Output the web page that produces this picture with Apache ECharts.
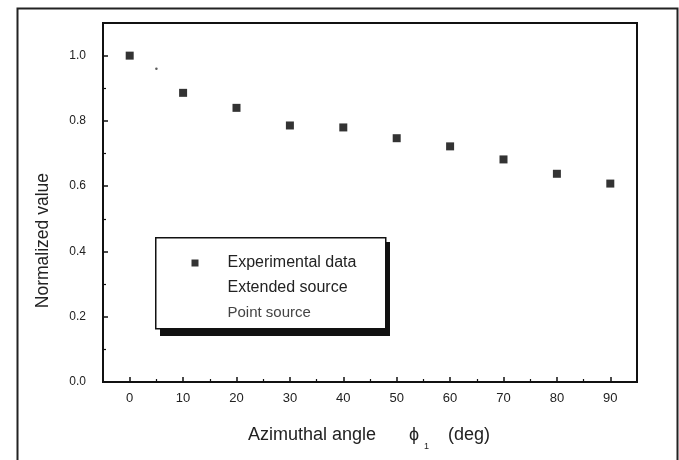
<!DOCTYPE html>
<html><head><meta charset="utf-8">
<script src="https://cdn.jsdelivr.net/npm/echarts@6/dist/echarts.min.js"></script>
<style>html,body{margin:0;padding:0;background:#fff}#c{width:679px;height:460px}</style>
</head><body><div id="c"></div>
<script>
const angles = [0, 10, 20, 30, 40, 50, 60, 70, 80, 90];
const experimental = [1.0, 0.886, 0.84, 0.786, 0.78, 0.747, 0.722, 0.682, 0.638, 0.608];
const pointSourceDots = [[5, 0.96]];
const extendedSource = [];
const xMajorTicks = [0, 10, 20, 30, 40, 50, 60, 70, 80, 90];
const xMinorTicks = [5, 15, 25, 35, 45, 55, 65, 75, 85];
const yMajorTicks = [0, 0.2, 0.4, 0.6, 0.8, 1.0];
const yMinorTicks = [0.1, 0.3, 0.5, 0.7, 0.9];

const chart = echarts.init(document.getElementById('c'));
const font = 'Liberation Sans, Arial, sans-serif';
chart.setOption({
  animation: false,
  backgroundColor: '#fff',
  grid: {left: 103, top: 23, right: 42, bottom: 78, show: true, borderColor: '#111', borderWidth: 2, backgroundColor: 'transparent'},
  xAxis: [{
    type: 'value', min: -5, max: 95, position: 'bottom',
    axisLine: {show: true, onZero: false, lineStyle: {color: '#111', width: 2}},
    axisTick: {show: true, inside: true, length: 5, customValues: xMajorTicks, lineStyle: {color: '#111', width: 1.5}},
    axisLabel: {customValues: xMajorTicks, color: '#222', fontFamily: font, fontSize: 13, margin: 10},
    splitLine: {show: false}
  }, {
    type: 'value', min: -5, max: 95, position: 'bottom',
    axisLine: {show: false, onZero: false},
    axisTick: {show: true, inside: true, length: 3, customValues: xMinorTicks, lineStyle: {color: '#111', width: 1.2}},
    axisLabel: {show: false}, splitLine: {show: false}
  }],
  yAxis: [{
    type: 'value', min: 0, max: 1.1, position: 'left',
    axisLine: {show: true, onZero: false, lineStyle: {color: '#111', width: 2}},
    axisTick: {show: true, inside: true, length: 5, customValues: yMajorTicks, lineStyle: {color: '#111', width: 1.5}},
    axisLabel: {customValues: yMajorTicks, formatter: v => v.toFixed(1), color: '#222', fontFamily: font, fontSize: 12, margin: 17},
    splitLine: {show: false}
  }, {
    type: 'value', min: 0, max: 1.1, position: 'left',
    axisLine: {show: false, onZero: false},
    axisTick: {show: true, inside: true, length: 3, customValues: yMinorTicks, lineStyle: {color: '#111', width: 1.2}},
    axisLabel: {show: false}, splitLine: {show: false}
  }],
  legend: {
    orient: 'vertical', left: 186.5, top: 249, itemWidth: 7, itemHeight: 7, itemGap: 7,
    textStyle: {color: '#222', fontFamily: font, fontSize: 16, lineHeight: 18, padding: [0, 0, 0, 24]},
    data: [
      {name: 'Experimental data', icon: 'rect', itemStyle: {color: '#000'}},
      {name: 'Extended source', icon: 'rect', itemStyle: {color: 'rgba(0,0,0,0)', borderWidth: 0}},
      {name: 'Point source', icon: 'rect', itemStyle: {color: 'rgba(0,0,0,0)', borderWidth: 0}, textStyle: {fontSize: 15, color: '#444'}}
    ],
    z: 20
  },
  graphic: [
    {type: 'rect', left: 15, top: 6, shape: {width: 660, height: 470}, style: {fill: 'none', stroke: '#222', lineWidth: 2}, silent: true, z: 0},
    {type: 'rect', left: 160, top: 242, shape: {width: 230, height: 94}, style: {fill: '#111'}, z: 10},
    {type: 'rect', left: 155, top: 237, shape: {width: 230, height: 91}, style: {fill: '#fff', stroke: '#111', lineWidth: 1.5}, z: 11},
    {type: 'text', left: 34, top: 173, rotation: Math.PI / 2, style: {text: 'Normalized value', fill: '#222', font: '17.5px ' + font}, z: 12},
    {type: 'text', left: 248, top: 426, style: {text: 'Azimuthal angle', fill: '#222', font: '18px ' + font}, z: 12},
    {type: 'text', left: 409, top: 426, style: {text: 'ϕ', fill: '#222', font: '18px ' + font}, z: 12},
    {type: 'text', left: 424, top: 442, style: {text: '1', fill: '#222', font: '9px ' + font}, z: 12},
    {type: 'text', left: 448, top: 426, style: {text: '(deg)', fill: '#222', font: '18px ' + font}, z: 12}
  ],
  series: [
    {name: 'Experimental data', type: 'scatter', symbol: 'rect', symbolSize: 8,
     itemStyle: {color: '#000'}, data: angles.map((a, i) => [a, experimental[i]]), z: 5},
    {name: 'Extended source', type: 'line', data: extendedSource, showSymbol: false, lineStyle: {color: '#111', width: 1}},
    {name: 'Point source', type: 'scatter', symbol: 'circle', symbolSize: 2.5,
     itemStyle: {color: '#333'}, data: pointSourceDots}
  ]
});
</script></body></html>
